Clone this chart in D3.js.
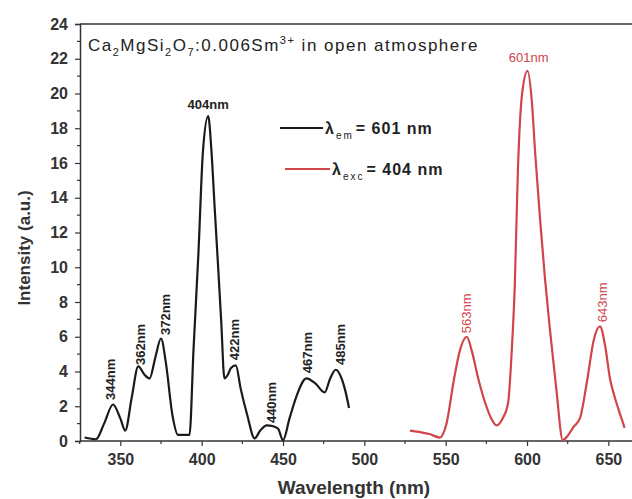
<!DOCTYPE html>
<html>
<head>
<meta charset="utf-8">
<script src="https://cdn.jsdelivr.net/npm/d3@7"></script>
<style>
  body { margin: 0; background: #fff; }
  text { font-family: "Liberation Sans", Arial, sans-serif; }
</style>
</head>
<body>
<div id="chart"></div>
<script>
/* Excitation spectrum (lambda_em = 601 nm) */
const excWavelength = [328, 335, 340, 345.5, 350, 353, 357, 361, 365, 368, 371.5, 375, 378, 382, 385.5, 392.5,
  395, 398, 400.8, 404, 406, 408, 410, 412, 414, 416, 418, 421, 424, 428, 432.5, 436, 440, 444, 447, 450,
  454, 458, 464.4, 470, 475.6, 479, 482.4, 486, 488, 490.6];
const excIntensity = [0.2, 0.1, 1.0, 2.1, 1.3, 0.6, 2.5, 4.3, 3.8, 3.6, 4.8, 5.9, 4.5, 1.5, 0.35, 0.35,
  5.3, 10.8, 16.7, 18.7, 16.7, 13.4, 10.2, 6.9, 3.6, 3.8, 4.2, 4.35, 3.0, 1.5, 0.15, 0.6, 0.9, 0.85, 0.7, 0.05,
  1.3, 2.5, 3.6, 3.3, 2.8, 3.6, 4.1, 3.6, 3.0, 1.9];

/* Emission spectrum (lambda_exc = 404 nm) */
const emWavelength = [528, 535, 540, 546.4, 550.5, 555, 559, 563, 566, 570, 575, 578, 581.2, 585, 588.4, 590.5,
  592.5, 594.4, 597, 600.3, 603, 605, 608, 611, 614, 618, 622, 625, 628.5, 632.5, 637, 641, 644.8, 648,
  651, 654, 657, 660];
const emIntensity = [0.6, 0.5, 0.4, 0.2, 1.0, 3.5, 5.3, 6.0, 5.2, 3.6, 2.0, 1.3, 0.9, 1.3, 2.2, 5.0,
  9.0, 15.6, 20.0, 21.3, 19.5, 16.6, 12.8, 9.4, 6.5, 3.0, 0.05, 0.3, 0.8, 1.3, 3.5, 5.8, 6.6, 5.5,
  3.6, 2.5, 1.6, 0.75];

/* Peak annotations */
const excPeakLabels = ["344nm", "362nm", "372nm", "404nm", "422nm", "440nm", "467nm", "485nm"];
const excPeakX = [344, 362.5, 377.9, 404, 420.3, 443.1, 465.2, 485.2];
const excPeakY = [2.36, 4.37, 6.1, 19.1, 4.65, 1.03, 3.9, 4.37];
const excPeakVertical = [true, true, true, false, true, true, true, true];

const emPeakLabels = ["563nm", "601nm", "643nm"];
const emPeakX = [562.4, 601, 646.3];
const emPeakY = [6.2, 21.8, 6.84];
const emPeakVertical = [true, false, true];

const xTicks = [350, 400, 450, 500, 550, 600, 650];
const yTicks = [0, 2, 4, 6, 8, 10, 12, 14, 16, 18, 20, 22, 24];

const W = 632, H = 499;
const margin = { left: 80, top: 24, right: 0, bottom: 58 };

const svg = d3.select("#chart").append("svg")
  .attr("width", W).attr("height", H);

const x = d3.scaleLinear().domain([325.2, 667]).range([margin.left, 636]);
const y = d3.scaleLinear().domain([0, 24]).range([441, margin.top]);

const axisColor = "#333";
const red = "#d0454a";

/* Top frame line */
svg.append("line")
  .attr("x1", margin.left).attr("x2", W)
  .attr("y1", y(24)).attr("y2", y(24))
  .attr("stroke", axisColor).attr("stroke-width", 1.5);

/* X axis */
const xAxis = svg.append("g")
  .attr("transform", "translate(0," + y(0) + ")")
  .call(d3.axisBottom(x).tickValues(xTicks).tickSize(5).tickPadding(8).tickFormat(d3.format("d")));
xAxis.append("g").selectAll("line")
  .data(d3.range(325, 675, 25).filter(function (d) { return d % 50 !== 0; }))
  .enter().append("line")
  .attr("x1", function (d) { return x(d); }).attr("x2", function (d) { return x(d); })
  .attr("y1", 0).attr("y2", 3);

/* Y axis */
const yAxis = svg.append("g")
  .attr("transform", "translate(" + margin.left + ",0)")
  .call(d3.axisLeft(y).tickValues(yTicks).tickSize(5).tickPadding(7));
yAxis.append("g").selectAll("line")
  .data(d3.range(1, 24, 2))
  .enter().append("line")
  .attr("x1", 0).attr("x2", -3)
  .attr("y1", function (d) { return y(d); }).attr("y2", function (d) { return y(d); });

[xAxis, yAxis].forEach(function (g) {
  g.select(".domain").attr("stroke", axisColor).attr("stroke-width", 1.5);
  g.selectAll("line").attr("stroke", axisColor).attr("stroke-width", 1.2);
  g.selectAll("text")
    .attr("fill", "#333")
    .style("font-size", "16px")
    .style("font-weight", "bold");
});
xAxis.select(".domain").attr("d", "M" + margin.left + ",0H" + W);

/* Axis titles */
svg.append("text")
  .attr("x", 354).attr("y", 494)
  .attr("text-anchor", "middle")
  .style("font-size", "19px").style("font-weight", "bold").attr("fill", "#333")
  .text("Wavelength (nm)");

svg.append("text")
  .attr("transform", "translate(30,248) rotate(-90)")
  .attr("text-anchor", "middle")
  .style("font-size", "17px").style("font-weight", "bold").attr("fill", "#333")
  .text("Intensity (a.u.)");

/* Curves */
const line = d3.line()
  .x(function (d) { return x(d[0]); })
  .y(function (d) { return y(d[1]); })
  .curve(d3.curveMonotoneX);

svg.append("path")
  .datum(d3.zip(excWavelength, excIntensity))
  .attr("fill", "none").attr("stroke", "#1a1a1a").attr("stroke-width", 2.2)
  .attr("stroke-linejoin", "round")
  .attr("d", line);

svg.append("path")
  .datum(d3.zip(emWavelength, emIntensity))
  .attr("fill", "none").attr("stroke", red).attr("stroke-width", 2.2)
  .attr("stroke-linejoin", "round")
  .attr("d", line);

/* Peak labels */
function peakLabels(labels, xs, ys, vertical, color, weight) {
  const fs = 13;
  labels.forEach(function (lbl, i) {
    const t = svg.append("text")
      .attr("fill", color)
      .style("font-size", fs + "px")
      .style("font-weight", weight)
      .text(lbl);
    if (vertical[i]) {
      t.attr("transform", "translate(" + (x(xs[i]) + fs * 0.36) + "," + y(ys[i]) + ") rotate(-90)")
        .attr("text-anchor", "start");
    } else {
      t.attr("x", x(xs[i])).attr("y", y(ys[i]))
        .attr("text-anchor", "middle");
    }
  });
}
peakLabels(excPeakLabels, excPeakX, excPeakY, excPeakVertical, "#222", "bold");
peakLabels(emPeakLabels, emPeakX, emPeakY, emPeakVertical, red, "normal");

/* Sample title */
const title = svg.append("text")
  .attr("x", 88).attr("y", 51)
  .attr("fill", "#222")
  .style("font-size", "17px")
  .style("letter-spacing", "1.5px");
title.append("tspan").text("Ca");
title.append("tspan").attr("dy", 5).style("font-size", "11px").text("2");
title.append("tspan").attr("dy", -5).text("MgSi");
title.append("tspan").attr("dy", 5).style("font-size", "11px").text("2");
title.append("tspan").attr("dy", -5).text("O");
title.append("tspan").attr("dy", 5).style("font-size", "11px").text("7");
title.append("tspan").attr("dy", -5).text(":0.006Sm");
title.append("tspan").attr("dy", -7).style("font-size", "11px").text("3+");
title.append("tspan").attr("dy", 7).text(" in open atmosphere");

/* Legend */
const legendItems = [
  { color: "#1a1a1a", sub: "em", value: "= 601 nm", x1: 280, x2: 323, yy: 128 },
  { color: red, sub: "exc", value: "= 404 nm", x1: 285, x2: 330, yy: 169 }
];
legendItems.forEach(function (it) {
  svg.append("line")
    .attr("x1", it.x1).attr("x2", it.x2)
    .attr("y1", it.yy).attr("y2", it.yy)
    .attr("stroke", it.color).attr("stroke-width", 2.2);
  const t = svg.append("text")
    .attr("x", it.x2 + 2).attr("y", it.yy + 6)
    .attr("fill", "#222")
    .style("font-size", "16px").style("font-weight", "bold");
  t.append("tspan").text("λ");
  t.append("tspan").attr("dy", 5).attr("dx", 2).style("font-size", "10px").style("font-weight", "normal")
    .style("letter-spacing", "2px").text(it.sub);
  t.append("tspan").attr("dy", -5).attr("dx", 2).style("letter-spacing", "1px").text(it.value);
});
</script>
</body>
</html>
